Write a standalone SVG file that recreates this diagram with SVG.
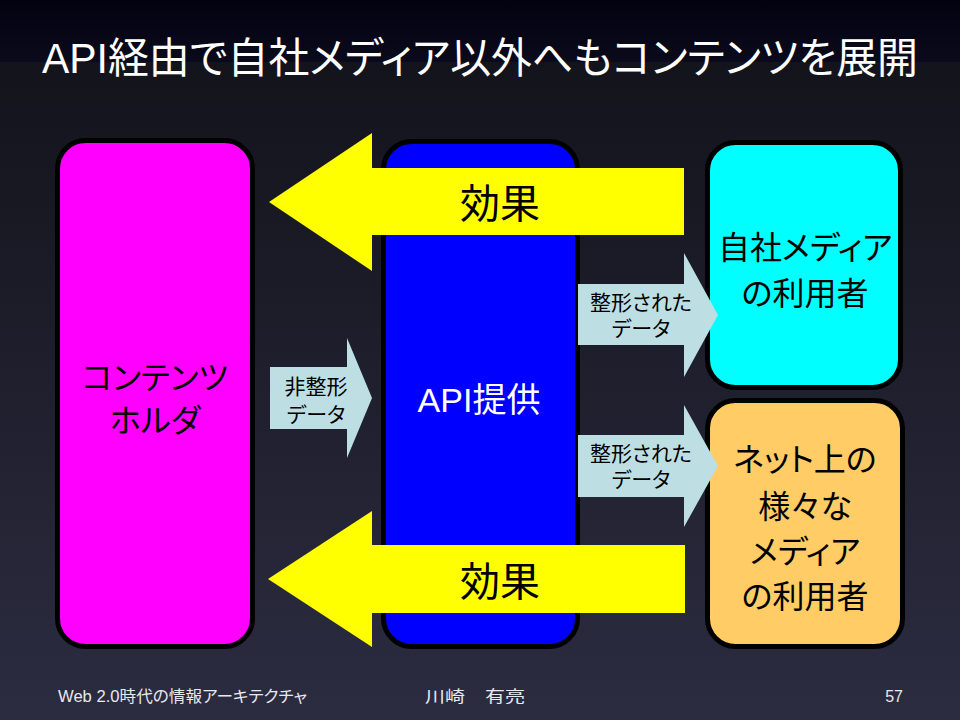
<svg xmlns="http://www.w3.org/2000/svg" width="960" height="720" viewBox="0 0 960 720">
<defs>
<linearGradient id="bgTop" x1="0" y1="0" x2="0" y2="1">
<stop offset="0" stop-color="#020210"/>
<stop offset="1" stop-color="#0a0a1c"/>
</linearGradient>
<linearGradient id="bgMain" x1="0" y1="0" x2="0" y2="1">
<stop offset="0" stop-color="#111118"/>
<stop offset="1" stop-color="#2b2c40"/>
</linearGradient>
<style>
.box{stroke:#000;stroke-width:5}
.jp{font-family:"Liberation Sans","Noto Sans CJK JP",sans-serif;font-feature-settings:"palt"}
.big{font-size:32px;fill:#000;text-anchor:middle}
.small{font-size:21px;fill:#000;text-anchor:middle}
.eff{font-size:40px;fill:#000;text-anchor:middle}
.foot{font-size:16px;fill:#e8e8ee}
.yel{fill:#ffff00}
.lb{fill:#bddfe3}
</style>
</defs>
<rect x="0" y="0" width="960" height="720" fill="url(#bgMain)"/>
<rect x="0" y="0" width="960" height="62" fill="url(#bgTop)"/>
<text class="jp" x="42" y="73" font-size="42" fill="#ffffff" textLength="876" lengthAdjust="spacingAndGlyphs">API経由で自社メディア以外へもコンテンツを展開</text>

<g id="node-holder">
<rect class="box" x="57.5" y="140.5" width="195" height="506" rx="28" fill="#ff00ff"/>
<text class="jp big" x="155" y="389">コンテンツ</text>
<text class="jp big" x="155" y="432">ホルダ</text>
</g>
<g id="node-api">
<rect class="box" x="383.5" y="141.5" width="194" height="505" rx="28" fill="#0000ff"/>
<text class="jp" x="479" y="412" font-size="34" fill="#ffffff" text-anchor="middle">API提供</text>
</g>
<g id="node-own">
<rect class="box" x="707.5" y="142.5" width="193" height="245" rx="28" fill="#00ffff"/>
<text class="jp big" x="805" y="259">自社メディア</text>
<text class="jp big" x="805" y="305">の利用者</text>
</g>
<g id="node-other">
<rect class="box" x="707.5" y="400.5" width="195" height="246" rx="28" fill="#ffcc66"/>
<text class="jp big" x="805" y="471">ネット上の</text>
<text class="jp big" x="805" y="518">様々な</text>
<text class="jp big" x="805" y="563">メディア</text>
<text class="jp big" x="805" y="608">の利用者</text>
</g>

<g id="connectors">
<g id="effect-top">
<polygon class="yel" points="269,202 372,133 372,168 684,168 684,235 372,235 372,271"/>
<text class="jp eff" x="500" y="218">効果</text>
</g>
<g id="effect-bottom">
<polygon class="yel" points="268,579 372,511 372,545 685,545 685,613 372,613 372,647"/>
<text class="jp eff" x="500" y="596">効果</text>
</g>
<g id="raw-data">
<polygon class="lb" points="270,367 347,367 347,338 372,398 347,458 347,429 270,429"/>
<text class="jp small" x="316" y="394">非整形</text>
<text class="jp small" x="316" y="422">データ</text>
</g>
<g id="formatted-own">
<polygon class="lb" points="578,284 684,284 684,253 718,315 684,377 684,345 578,345"/>
<text class="jp small" x="641" y="310">整形された</text>
<text class="jp small" x="641" y="336">データ</text>
</g>
<g id="formatted-other">
<polygon class="lb" points="578,435 684,435 684,405 718,466 684,527 684,497 578,497"/>
<text class="jp small" x="641" y="461">整形された</text>
<text class="jp small" x="641" y="487">データ</text>
</g>
</g>

<g id="footer">
<text class="jp foot" x="58" y="702" textLength="249" lengthAdjust="spacingAndGlyphs">Web 2.0時代の情報アーキテクチャ</text>
<text class="jp foot" x="475" y="702" font-size="17" text-anchor="middle" textLength="100" lengthAdjust="spacingAndGlyphs">川崎　有亮</text>
<text class="jp foot" x="903" y="702" text-anchor="end">57</text>
</g>
</svg>
